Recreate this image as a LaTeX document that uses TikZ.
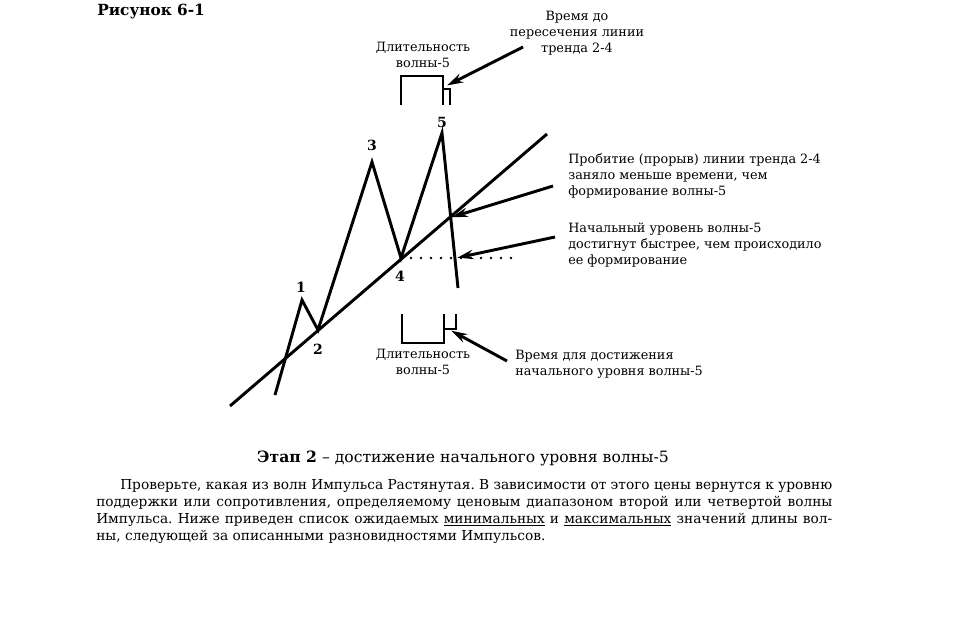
\documentclass[tikz,border=0pt]{standalone}
\usepackage{fontspec}
\setmainfont{DejaVu Serif}
\usetikzlibrary{arrows.meta}
\begin{document}
\frenchspacing
\begin{tikzpicture}[x=0.75pt,y=-0.75pt,
  wave/.style={line width=2.2pt, line join=miter},
  bracket/.style={line width=1.9pt},
  pointer/.style={line width=2.2pt,-{Stealth[length=12pt,width=7pt]}, shorten >=1pt},
  lbl/.style={font=\fontsize{9.6}{12}\selectfont, inner sep=0pt},
  num/.style={font=\bfseries\fontsize{10.5}{12}\selectfont, inner sep=0pt}]
\useasboundingbox (0,0) rectangle (962,621);
% points
\coordinate (t0) at (230,406);
\coordinate (t1) at (547,134);
\coordinate (w0) at (275,395);
\coordinate (w1) at (302,300);
\coordinate (w2) at (318,330);
\coordinate (w3) at (372,162);
\coordinate (w4) at (401,258);
\coordinate (w5) at (442,133);
\coordinate (we) at (458,288);
\coordinate (x1) at (450.5,217.5);
\coordinate (x2) at (456,258);
\coordinate (dotend) at (513,258);
% trend line and waves
\draw[wave] (t0) -- (t1);
\draw[wave] (w0) -- (w1) -- (w2) -- (w3) -- (w4) -- (w5) -- (we);
\draw[line width=2.1pt, line cap=round, dash pattern=on 0pt off 7.5pt] (w4) -- (dotend);
% numbers
\node[num] (n1) at (301,287) {1};
\node[num] (n2) at (318,349) {2};
\node[num] (n3) at (372,145) {3};
\node[num] (n4) at (400,276) {4};
\node[num] (n5) at (442,122) {5};
% brackets
\draw[bracket] (401,105) -- (401,76) -- (443,76) -- (443,105);
\draw[bracket] (443,89) coordinate (tb) -- (450,89) -- (450,105);
\draw[bracket] (402,314) -- (402,343) -- (444,343) -- (444,314);
\draw[bracket] (444,329) coordinate (bb) -- (456,329) -- (456,314);
% labels
\node[lbl, align=center] (dtop) at (423,55) {Длительность\\волны-5};
\node[lbl, align=center] (ttop) at (577,33) {Время до\\пересечения линии\\тренда 2-4};
\node[lbl, align=left, anchor=west] (lbr) at (568,176) {Пробитие (прорыв) линии тренда 2-4\\заняло меньше времени, чем\\формирование волны-5};
\node[lbl, align=left, anchor=west] (llv) at (568,245) {Начальный уровень волны-5\\достигнут быстрее, чем происходило\\ее формирование};
\node[lbl, align=center] (dbot) at (423,362) {Длительность\\волны-5};
\node[lbl, align=left, anchor=west] (tbot) at (515,364) {Время для достижения\\начального уровня волны-5};
% arrows
\coordinate (a0) at (523,47);
\coordinate (a0h) at (446,86);
\coordinate (a1) at (553,186);
\coordinate (a2) at (555,237);
\coordinate (a3) at (507,361);
\coordinate (a3h) at (450,330);
\draw[pointer] (a0) -- (a0h);
\draw[pointer] (a1) -- (x1);
\draw[pointer] (a2) -- (x2);
\draw[pointer] (a3) -- (a3h);
% titles and text
\node[font=\bfseries\fontsize{11.5}{13}\selectfont, anchor=west, inner sep=0pt] (title) at (97,12) {Рисунок 6-1};
\node[font=\fontsize{11.7}{14}\selectfont, inner sep=0pt] (head) at (463,458) {\textbf{Этап 2} – достижение начального уровня волны-5};
\node[font=\fontsize{10.3}{12.9}\selectfont, anchor=north west, inner sep=0pt, text width=552pt, align=justify] (body) at (96,479)
{\hspace*{18pt}Проверьте, какая из волн Импульса Растянутая. В зависимости от этого цены вернутся к уровню\linebreak
поддержки или сопротивления, определяемому ценовым диапазоном второй или четвертой волны\linebreak
Импульса. Ниже приведен список ожидаемых \underline{минимальных} и \underline{максимальных} значений длины вол-\linebreak
ны, следующей за описанными разновидностями Импульсов.};
\end{tikzpicture}
\end{document}
